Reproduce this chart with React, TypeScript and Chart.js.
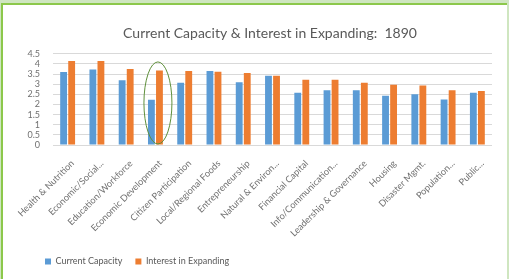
import React, { useEffect, useRef } from "react";
import { Chart, registerables } from "chart.js";

Chart.register(...registerables);

const chartTitle = "Current Capacity & Interest in Expanding:  1890";
const categories = [
  "Health & Nutrition",
  "Economic/Social...",
  "Education/Workforce",
  "Economic Development",
  "Citizen Participation",
  "Local/Regional Foods",
  "Entrepreneurship",
  "Natural & Environ...",
  "Financial Capital",
  "Info/Communication...",
  "Leadership & Governance",
  "Housing",
  "Disaster Mgmt.",
  "Population...",
  "Public...",
];
const seriesNames = ["Current Capacity", "Interest in Expanding"];
const currentCapacity = [3.6, 3.72, 3.2, 2.23, 3.07, 3.65, 3.1, 3.42, 2.58, 2.7, 2.7, 2.43, 2.5, 2.25, 2.58];
const interestInExpanding = [4.15, 4.15, 3.75, 3.68, 3.65, 3.62, 3.55, 3.42, 3.22, 3.22, 3.07, 2.97, 2.93, 2.7, 2.67];
const yMax = 4.5;
const yStep = 0.5;
const highlightIndex = 3;
const highlightTop = 4.1;
const highlightBottom = 0.05;

const FONT = "Lato";
const TEXT = "#595959";
const TICK = "#707070";

export default function App() {
  const ref = useRef<HTMLCanvasElement | null>(null);

  useEffect(() => {
    if (!ref.current) return;
    const ellipsePlugin = {
      id: "highlightEllipse",
      afterLayout(chart: any) {
        const t = chart.titleBlock;
        if (t) {
          t.left = chart.chartArea.left - 5;
          t.right = chart.chartArea.right;
        }
        const lg = chart.legend;
        if (lg) {
          lg.left = 32;
        }
      },
      afterDatasetsDraw(chart: any) {
        const xs = chart.scales.x;
        const ys = chart.scales.y;
        const cx = xs.getPixelForValue(highlightIndex) + 2.5;
        const yt = ys.getPixelForValue(highlightTop);
        const yb = ys.getPixelForValue(highlightBottom);
        const ctx = chart.ctx;
        ctx.save();
        ctx.beginPath();
        ctx.ellipse(cx, (yt + yb) / 2, 14, (yb - yt) / 2, 0, 0, Math.PI * 2);
        ctx.strokeStyle = "#5e8f3a";
        ctx.lineWidth = 1;
        ctx.stroke();
        ctx.restore();
      },
    };
    const chart = new Chart(ref.current, {
      type: "bar",
      data: {
        labels: categories,
        datasets: [
          {
            label: seriesNames[0],
            data: currentCapacity,
            backgroundColor: "#5B9BD5",
            borderWidth: 0,
            categoryPercentage: 0.55,
            barPercentage: 0.85,
          },
          {
            label: seriesNames[1],
            data: interestInExpanding,
            backgroundColor: "#ED7D31",
            borderWidth: 0,
            categoryPercentage: 0.55,
            barPercentage: 0.85,
          },
        ],
      },
      options: {
        responsive: false,
        animation: false,
        events: [],
        layout: { padding: { left: 20, right: 17, top: 4, bottom: 3 } },
        plugins: {
          title: {
            display: true,
            text: chartTitle,
            color: TEXT,
            font: { family: FONT, size: 14, weight: "normal" },
            padding: { top: 21, bottom: 12 },
          },
          legend: {
            position: "bottom",
            align: "start",
            labels: {
              boxWidth: 6,
              boxHeight: 6,
              padding: 13,
              color: TEXT,
              font: { family: FONT, size: 9 },
            },
          },
          tooltip: { enabled: false },
        },
        scales: {
          x: {
            grid: { display: false, drawTicks: false },
            border: { display: false },
            ticks: {
              autoSkip: false,
              maxRotation: 45,
              minRotation: 45,
              padding: 13,
              labelOffset: 5,
              color: TICK,
              font: { family: FONT, size: 9.2 },
            },
            afterFit(s: any) {
              s.height = 99;
              s.paddingLeft = 0;
              s.paddingRight = 0;
            },
          },
          y: {
            min: 0,
            max: yMax,
            grid: { color: "#d9d9d9", drawTicks: false },
            border: { display: false },
            ticks: {
              stepSize: yStep,
              autoSkip: false,
              padding: 13,
              color: TICK,
              font: { family: FONT, size: 9 },
              callback: (v: any) => String(Number(v)),
            },
            afterFit(s: any) {
              s.width = 33;
            },
          },
        },
      },
      plugins: [ellipsePlugin],
    } as any);
    return () => chart.destroy();
  }, []);

  return (
    <div style={{ position: "fixed", left: 0, top: 0, width: 509, height: 279, background: "#cfe6c0", overflow: "hidden" }}>
      <div
        style={{
          position: "absolute",
          left: 1,
          top: 3,
          width: 506,
          height: 276,
          background: "#ffffff",
          borderTop: "2px solid #8cc84b",
          borderLeft: "2px solid #8cc84b",
          boxSizing: "border-box",
        }}
      />
      <canvas ref={ref} width={509} height={279} style={{ position: "absolute", left: 0, top: 0 }} />
    </div>
  );
}
